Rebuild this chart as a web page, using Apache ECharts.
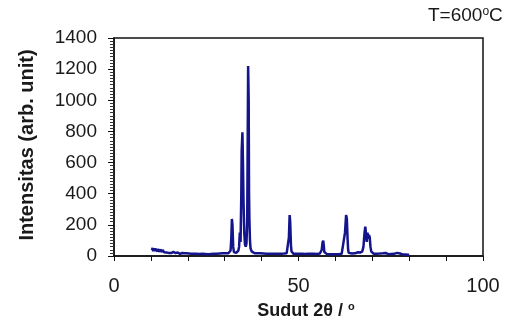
<!DOCTYPE html>
<html>
<head>
<meta charset="utf-8">
<script src="https://cdn.jsdelivr.net/npm/echarts@6/dist/echarts.min.js"></script>
<style>html,body{margin:0;padding:0;background:#fff}#c{width:514px;height:321px}</style>
</head>
<body>
<div id="c"></div>
<script>
// 2θ (degrees) and intensity (arb. unit)
const theta = [
  10.3,10.45,10.6,10.75,10.9,11.05,11.2,11.35,11.5,11.65,11.8,11.95,12.1,12.25,12.4,12.55,12.7,12.85,13.0,13.15,
  13.3,13.45,13.6,13.75,13.9,14.05,14.2,14.35,14.5,14.65,14.8,14.95,15.1,15.3,15.5,15.7,15.9,16.1,16.3,16.5,
  16.7,16.9,17.1,17.3,17.5,17.7,17.9,18.1,18.3,18.5,18.8,19.1,19.4,19.7,20.0,20.3,20.6,20.9,21.2,21.5,
  21.9,22.3,22.7,23.1,23.5,23.9,24.3,24.7,25.1,25.5,25.9,26.3,26.7,27.1,27.5,27.9,28.3,28.7,29.1,29.5,
  29.9,30.3,30.7,31.0,31.4,31.6,31.8,31.95,32.1,32.3,32.5,32.8,
  33.1,33.4,33.7,33.9,34.1,34.3,34.5,34.6,34.8,34.95,35.1,35.3,35.5,35.7,35.9,36.1,36.2,36.35,36.5,36.6,
  36.7,36.85,37.0,37.3,37.7,38.1,38.5,38.9,39.3,39.7,40.1,40.5,40.9,41.3,41.7,42.1,42.5,42.9,43.3,43.7,
  44.1,44.5,44.9,45.3,45.7,46.1,46.5,46.8,47.1,47.4,47.6,47.75,47.95,48.1,48.3,48.6,49.0,49.4,49.8,50.2,
  50.6,51.0,51.4,51.8,52.2,52.6,53.0,53.4,53.8,54.2,54.6,55.0,55.4,55.8,56.1,56.3,56.5,56.7,56.85,57.0,
  57.3,57.7,58.1,58.5,58.9,59.3,59.7,60.1,60.5,60.9,61.3,61.7,62.2,62.6,62.9,63.1,63.3,63.45,63.6,63.8,
  64.1,64.5,64.9,65.3,65.7,66.1,66.4,66.7,67.0,67.3,67.6,67.9,68.1,68.3,68.5,68.7,68.9,69.1,69.3,69.5,
  69.7,70.0,70.4,70.8,71.2,71.6,72.0,72.4,72.9,73.3,73.6,73.9,74.3,74.7,75.1,75.5,75.9,76.3,76.7,77.2,
  77.5,77.8,78.2,78.6,79.0,79.4,79.7,80.0
];
const intensity = [
  38,52,30,49,34,50,31,46,35,48,29,44,33,45,27,42,31,40,26,39,
  28,37,24,36,27,34,22,33,25,31,20,30,23,28,19,27,21,26,17,25,
  19,23,16,22,18,21,14,20,16,19,13,18,15,17,12,16,14,15,11,15,
  12,14,10,13,11,14,10,13,11,12,10,13,11,14,12,15,12,16,13,17,
  14,18,15,18,22,35,120,238,200,60,25,18,
  20,22,35,60,150,90,400,670,795,600,350,150,75,60,80,220,600,1220,1000,400,
  230,100,50,30,22,18,15,18,14,17,13,16,14,15,12,15,13,14,12,15,
  12,14,13,15,13,16,14,18,30,120,263,220,70,30,18,14,12,15,12,14,
  11,14,12,13,11,14,12,15,11,14,12,13,12,16,22,40,85,98,70,25,
  14,12,14,11,13,12,14,11,13,12,15,14,22,150,263,240,110,40,20,16,
  14,16,13,17,18,24,32,22,20,30,60,150,188,140,90,150,110,135,120,60,
  30,18,14,12,15,13,16,22,18,26,20,14,12,11,13,12,14,16,20,22,
  16,12,10,11,9,10,8,8
];
const yTicks = [0,200,400,600,800,1000,1200,1400];
const xTickLabels = [0,50,100];

const data = theta.map((t,i)=>[t,intensity[i]]);
const chart = echarts.init(document.getElementById('c'), null, {renderer:'canvas'});
const FONT = '"Liberation Sans", Arial, sans-serif';
chart.setOption({
  animation:false,
  backgroundColor:'#fff',
  grid:{left:114,right:31,top:38,bottom:65,show:true,borderColor:'#111',borderWidth:1.5,backgroundColor:'transparent'},
  xAxis:{
    type:'value',min:0,max:100,interval:10,
    axisLine:{show:true,onZero:false,lineStyle:{color:'#111',width:1.5}},
    axisTick:{show:true,inside:false,length:5,lineStyle:{color:'#111'}},
    splitLine:{show:false},
    axisLabel:{margin:20,fontSize:20,color:'#1a1a1a',fontFamily:FONT,
      formatter:v=>xTickLabels.indexOf(v)>=0?String(v):''},
  },
  yAxis:{
    type:'value',min:0,max:1400,interval:200,
    axisLine:{show:true,lineStyle:{color:'#111',width:1.5}},
    axisTick:{show:true,inside:false,length:6,lineStyle:{color:'#111'}},
    minorTick:{show:true,splitNumber:10,length:4,lineStyle:{color:'#333'}},
    splitLine:{show:false},
    axisLabel:{margin:17,fontSize:19,color:'#1a1a1a',fontFamily:FONT,
      formatter:v=>yTicks.indexOf(v)>=0?String(v):''},
  },
  graphic:[
    {type:'text',left:428,top:6,style:{text:'T=600{s|o}C',fontSize:19,fill:'#1a1a1a',fontFamily:FONT,
      rich:{s:{fontSize:12,verticalAlign:'top',padding:[0,0,8,0],fill:'#1a1a1a',fontFamily:FONT}}}},
    {type:'text',x:306,y:311,style:{text:'Sudut 2θ / {s|o}',fontSize:18,fontWeight:'bold',fill:'#1a1a1a',fontFamily:FONT,
      align:'center',verticalAlign:'middle',
      rich:{s:{fontSize:11,fontWeight:'bold',padding:[0,0,9,0],fill:'#1a1a1a',fontFamily:FONT}}}},
    {type:'text',x:27,y:145,rotation:Math.PI/2,style:{text:'Intensitas (arb. unit)',fontSize:20,fontWeight:'bold',fill:'#1a1a1a',fontFamily:FONT,
      align:'center',verticalAlign:'middle'}}
  ],
  series:[{
    type:'line',data:data,showSymbol:false,symbol:'none',
    lineStyle:{color:'#14148c',width:2.5},
    clip:true
  }]
});
</script>
</body>
</html>
